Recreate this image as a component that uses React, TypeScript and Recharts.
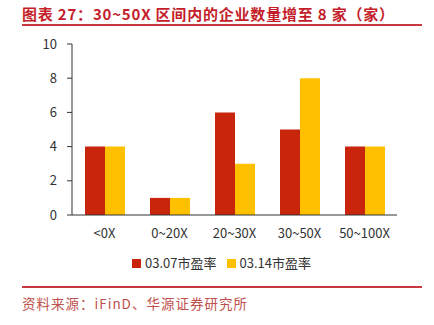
import React from "react";
import {
  BarChart,
  Bar,
  XAxis,
  YAxis,
  Legend,
} from "recharts";

const categories = ["<0X", "0~20X", "20~30X", "30~50X", "50~100X"];
const pe0307 = [4, 1, 6, 5, 4];
const pe0314 = [4, 1, 3, 8, 4];
const yTicks = [0, 2, 4, 6, 8, 10];
const bandEdges = [0, 1, 2, 3, 4, 5];

const data = categories.map((name, i) => ({
  name,
  a: pe0307[i],
  b: pe0314[i],
}));

const FONT = '"Noto Sans CJK SC", "Noto Sans", sans-serif';
const RED = "#C8250C";
const YELLOW = "#FFC000";

export default function App() {
  return (
    <div
      style={{
        position: "absolute",
        left: 0,
        top: 0,
        width: 434,
        height: 325,
        background: "#fff",
        fontFamily: FONT,
        overflow: "hidden",
      }}
    >
      <div
        style={{
          position: "absolute",
          left: 22,
          top: 3,
          fontSize: 15,
          fontWeight: 700,
          color: "#C41E2A",
          whiteSpace: "nowrap",
          letterSpacing: 0.8,
        }}
      >
        图表 27：30~50X 区间内的企业数量增至 8 家（家）
      </div>
      <div
        style={{
          position: "absolute",
          left: 22,
          top: 24,
          width: 400,
          height: 2,
          background: "#C8383E",
        }}
      />
      <div style={{ position: "absolute", left: 0, top: 0 }}>
        <BarChart
          width={434}
          height={280}
          data={data}
          margin={{ top: 44, right: 37, left: 0, bottom: 7 }}
          barCategoryGap="20%"
          barGap={0}
        >
          <XAxis
            xAxisId="edges"
            type="number"
            domain={[0, 5]}
            ticks={bandEdges}
            tickFormatter={() => ""}
            axisLine={false}
            tickLine={{ stroke: "#333" }}
            tickSize={5}
            height={0}
          />
          <XAxis
            dataKey="name"
            tickLine={false}
            axisLine={{ stroke: "#333" }}
            tick={{ fill: "#333", fontSize: 13 }}
            tickSize={6}
            tickMargin={8}
            height={34}
            interval={0}
          />
          <YAxis
            domain={[0, 10]}
            ticks={yTicks}
            width={72}
            axisLine={{ stroke: "#333" }}
            tickLine={{ stroke: "#333" }}
            tick={{ fill: "#333", fontSize: 13 }}
            tickSize={5}
            tickMargin={10}
          />
          <Legend
            verticalAlign="bottom"
            iconType="square"
            iconSize={9}
            wrapperStyle={{ left: 28 }}
            formatter={(v) => (
              <span style={{ color: "#333", fontSize: 13 }}>{v}</span>
            )}
          />
          <Bar
            dataKey="a"
            name="03.07市盈率"
            fill={RED}
            isAnimationActive={false}
          />
          <Bar
            dataKey="b"
            name="03.14市盈率"
            fill={YELLOW}
            isAnimationActive={false}
          />
        </BarChart>
      </div>
      <div
        style={{
          position: "absolute",
          left: 22,
          top: 286,
          width: 400,
          height: 2,
          background: "#C8383E",
        }}
      />
      <div
        style={{
          position: "absolute",
          left: 22,
          top: 293,
          fontSize: 13.5,
          color: "#C0504D",
          whiteSpace: "nowrap",
          letterSpacing: 1,
        }}
      >
        资料来源：iFinD、华源证券研究所
      </div>
    </div>
  );
}
